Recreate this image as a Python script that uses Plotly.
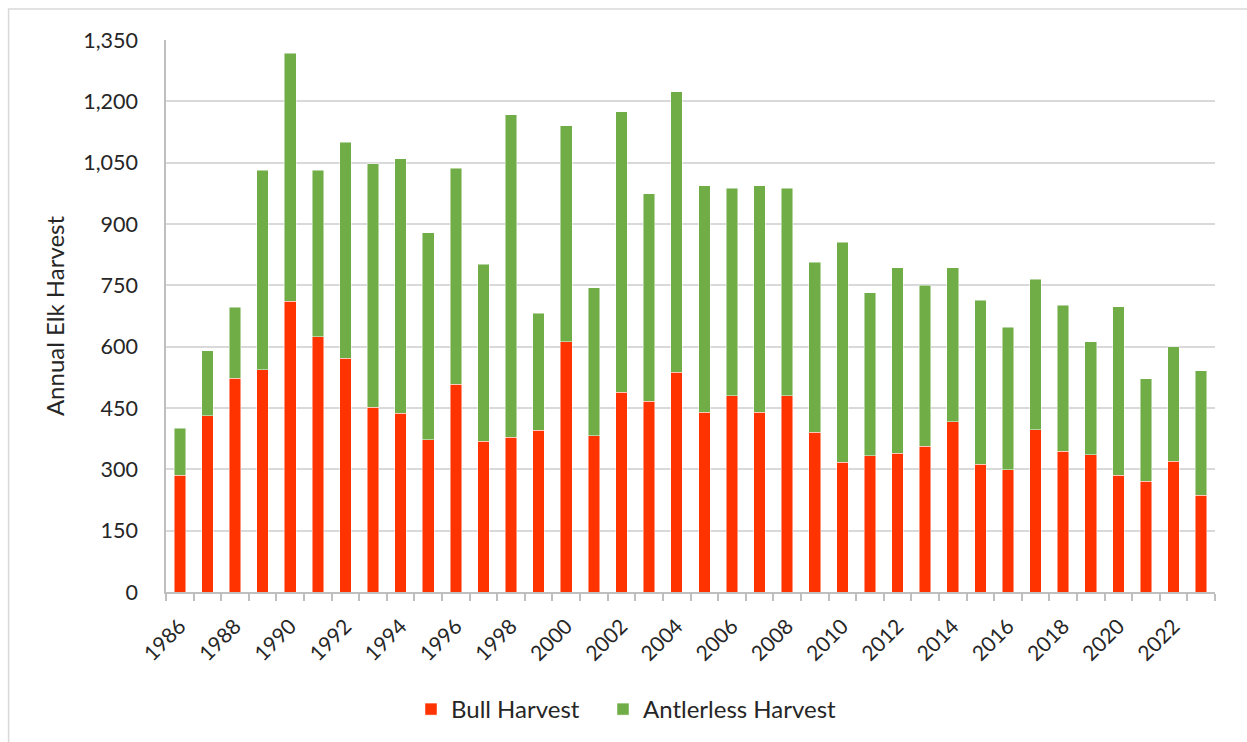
import plotly.graph_objects as go

# Annual elk harvest by season, 1986-2023
years = list(range(1986, 2024))

total_harvest = [
    400, 590, 697, 1032, 1317, 1032, 1100, 1047, 1060, 879,
    1036, 802, 1167, 682, 1140, 744, 1174, 974, 1223, 993,
    987, 993, 987, 806, 855, 732, 793, 750, 793, 713,
    648, 765, 701, 612, 698, 522, 600, 541,
]

bull_harvest = [
    286, 431, 523, 544, 711, 624, 572, 452, 437, 372,
    508, 369, 379, 396, 612, 382, 489, 467, 538, 440,
    480, 440, 480, 391, 317, 333, 339, 357, 416, 312,
    299, 397, 344, 336, 286, 271, 320, 237,
]

antlerless_harvest = [t - b for t, b in zip(total_harvest, bull_harvest)]

label_years = [y for y in years if y % 2 == 0]
boundaries = [y - 0.5 for y in years] + [years[-1] + 0.5]

BULL_COLOR = "#FF3300"
ANTLERLESS_COLOR = "#70AD47"
FONT = "Lato, 'Open Sans', sans-serif"
TEXT_COLOR = "#262626"

fig = go.Figure()
fig.add_trace(go.Bar(
    x=years, y=bull_harvest, name="Bull Harvest",
    marker=dict(color=BULL_COLOR, line=dict(color="rgba(255,255,255,0.6)", width=0.8)),
    width=0.42, legend="legend",
))
fig.add_trace(go.Bar(
    x=years, y=antlerless_harvest, name="Antlerless Harvest",
    marker=dict(color=ANTLERLESS_COLOR, line=dict(color="rgba(255,255,255,0.6)", width=0.8)),
    width=0.42, legend="legend2",
))

L, R, T, B = 165.5, 32, 40, 150
W, H = 1247, 742
pw = W - L - R
ph = H - T - B

def px_x(p):
    return (p - L) / pw

def px_y(p):
    return (H - B - p) / ph

legend_style = dict(
    orientation="h",
    xanchor="left", yanchor="top",
    xref="container", yref="container",
    y=1 - 687 / H,
    font=dict(size=24, color=TEXT_COLOR),
    itemwidth=30,
    bgcolor="rgba(0,0,0,0)",
)

fig.update_layout(
    barmode="stack",
    width=W, height=H,
    margin=dict(l=L, r=R, t=T, b=B, autoexpand=False),
    paper_bgcolor="white",
    plot_bgcolor="white",
    font=dict(family=FONT, color=TEXT_COLOR, size=21),
    showlegend=True,
    legend=dict(x=411 / W, **legend_style),
    legend2=dict(x=603 / W, **legend_style),
    xaxis=dict(
        range=[years[0] - 0.5, years[-1] + 0.5],
        automargin=False,
        tickmode="array",
        tickvals=label_years,
        ticktext=[str(y) for y in label_years],
        tickangle=-45,
        ticks="",
        ticklabelstandoff=12,
        showgrid=False,
        showline=True,
        linecolor="#BFBFBF",
        linewidth=1.5,
        zeroline=False,
        tickfont=dict(size=21, color=TEXT_COLOR),
        minor=dict(
            tickmode="array",
            tickvals=boundaries,
            ticks="outside",
            ticklen=7,
            tickcolor="#BFBFBF",
            tickwidth=1.5,
            showgrid=False,
        ),
    ),
    yaxis=dict(
        range=[0, 1350],
        automargin=False,
        tickmode="array",
        tickvals=list(range(0, 1351, 150)),
        tickformat=",",
        showgrid=True,
        gridcolor="#D9D9D9",
        gridwidth=1.5,
        showline=True,
        linecolor="#BFBFBF",
        linewidth=1.5,
        zeroline=False,
        ticks="",
        ticklabelstandoff=22,
        tickfont=dict(size=21.5, color=TEXT_COLOR),
        title=dict(text="Annual Elk Harvest", font=dict(size=24, color=TEXT_COLOR), standoff=12),
    ),
    shapes=[
        dict(
            type="rect", xref="paper", yref="paper",
            x0=px_x(8), x1=px_x(1260),
            y0=px_y(760), y1=px_y(9),
            line=dict(color="#D9D9D9", width=1.5),
            fillcolor="rgba(0,0,0,0)",
            layer="below",
        )
    ],
)

fig.write_html("out.html")
